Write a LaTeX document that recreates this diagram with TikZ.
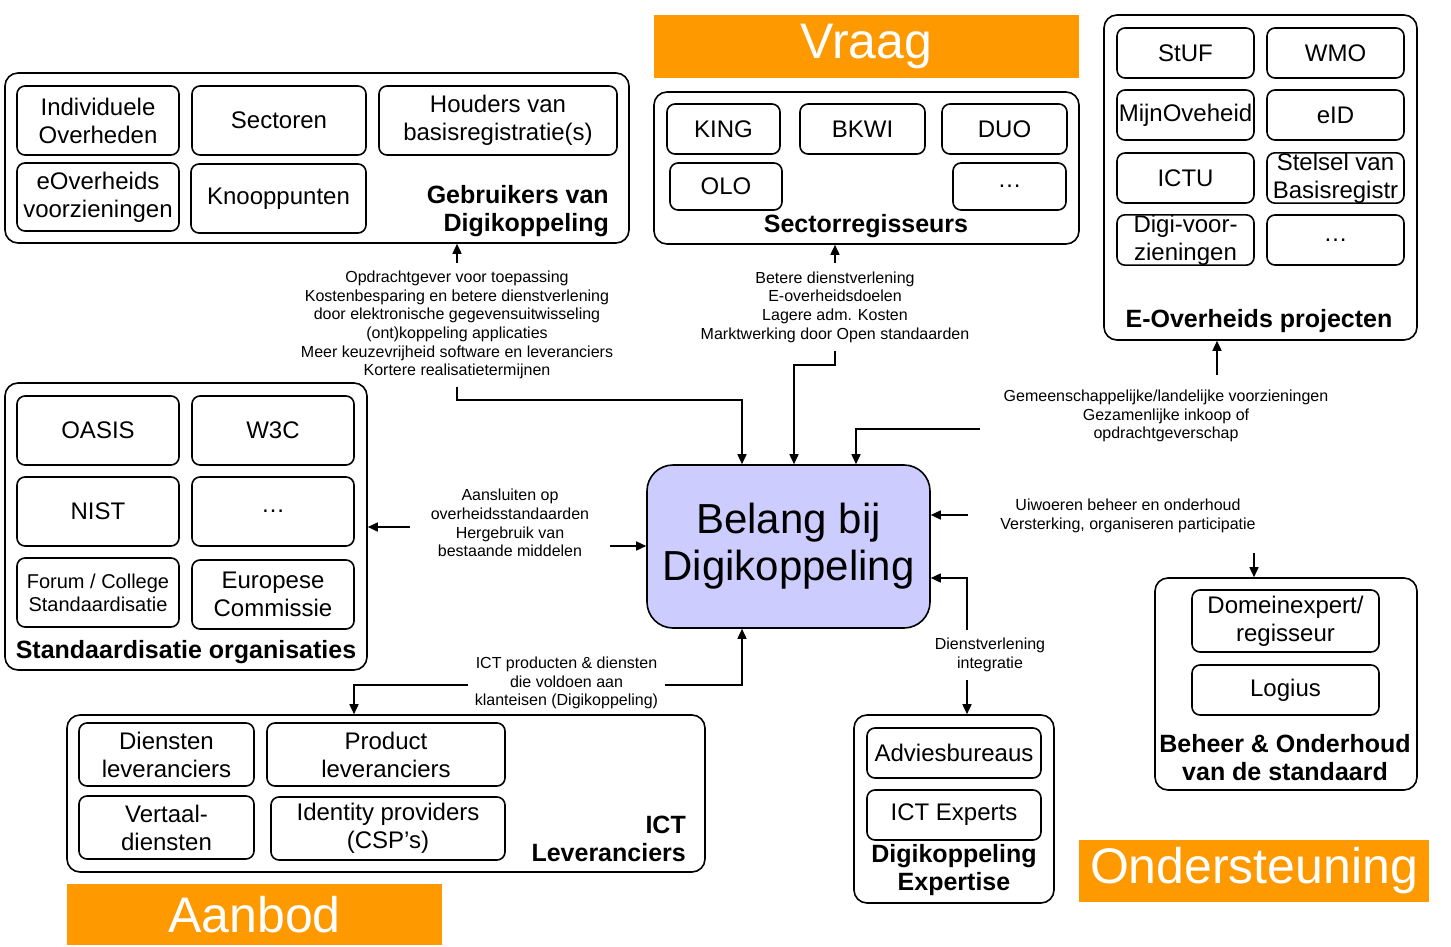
\documentclass[tikz,border=0pt]{standalone}
\usepackage{fontspec}
\setmainfont{Liberation Sans}
\usetikzlibrary{arrows.meta}
\definecolor{oranje}{RGB}{255,153,0}
\definecolor{lila}{RGB}{204,204,255}

\begin{document}
\begin{tikzpicture}[x=1pt,y=-1pt,
    item/.style={draw, rounded corners=8pt, line width=1.6pt, inner sep=0pt, align=center, font=\fontsize{24}{28}\selectfont},
    group/.style={draw, rounded corners=13pt, line width=1.6pt, inner sep=0pt},
    kop/.style={font=\fontsize{25}{28}\selectfont\bfseries, align=center, inner sep=0pt},
    banner/.style={fill=oranje, text=white, inner sep=0pt, font=\fontsize{50}{56}\selectfont},
    note/.style={align=center, inner sep=0pt, font=\fontsize{16}{18.6}\selectfont},
    arr/.style={-{Triangle[length=10pt,width=9pt]}, line width=1.6pt}]
        \useasboundingbox (0,0) rectangle (1451,947);

        % banners
        \node[banner, minimum width=425pt, minimum height=63pt] (vraag) at (866.5,46.5) {Vraag};
        \node[banner, minimum width=375pt, minimum height=61pt] (aanbod) at (254.5,914.5) {Aanbod};
        \node[banner, minimum width=350pt, minimum height=62pt] (onder) at (1254,871) {Ondersteuning};

        % groups
        \node[group, minimum width=624pt, minimum height=170pt] (gebr) at (317,158) {};
        \node[group, minimum width=425pt, minimum height=152pt] (sector) at (866.5,168) {};
        \node[group, minimum width=313pt, minimum height=325pt] (eover) at (1260.5,177.5) {};
        \node[group, minimum width=362pt, minimum height=287pt] (stand) at (186,526.5) {};
        \node[group, minimum width=638pt, minimum height=157pt] (ictlev) at (386,793.5) {};
        \node[group, minimum width=200pt, minimum height=188pt] (expert) at (954,809) {};
        \node[group, minimum width=262pt, minimum height=212pt] (beheer) at (1286,684) {};

        \node[kop, anchor=east, align=right] (gebrkop) at (609,211) {Gebruikers van\\Digikoppeling};
        \node[kop] (sectorkop) at (866,226) {Sectorregisseurs};
        \node[kop] (eoverkop) at (1259,321) {E-Overheids projecten};
        \node[kop] (standkop) at (186,652) {Standaardisatie organisaties};
        \node[kop, anchor=east, align=right] (ictkop) at (686,839) {ICT\\Leveranciers};
        \node[kop] (expertkop) at (954,870) {Digikoppeling\\Expertise};
        \node[kop] (beheerkop) at (1285,758) {Beheer \& Onderhoud\\van de standaard};

        % gebruikers
        \node[item, minimum width=162pt, minimum height=69pt] (indiv) at (98,120.5) {Individuele\\Overheden};
        \node[item, minimum width=174pt, minimum height=69pt] (sectoren) at (279,120.5) {Sectoren};
        \node[item, minimum width=238pt, minimum height=69pt] (houders) at (498,120.5) {Houders van\\basisregistratie(s)};
        \node[item, minimum width=162pt, minimum height=68pt] (evoorz) at (98,197) {eOverheids\\voorzieningen};
        \node[item, minimum width=175pt, minimum height=69pt] (knoop) at (278.5,198.5) {Knooppunten};

        % sectorregisseurs
        \node[item, minimum width=113pt, minimum height=50pt] (king) at (723.5,129) {KING};
        \node[item, minimum width=125pt, minimum height=50pt] (bkwi) at (862.5,129) {BKWI};
        \node[item, minimum width=125pt, minimum height=50pt] (duo) at (1004.5,129) {DUO};
        \node[item, minimum width=112pt, minimum height=47pt] (olo) at (726,186.5) {OLO};
        \node[item, minimum width=113pt, minimum height=47pt] (sectordots) at (1009.5,186.5) {\ldots};

        % e-overheids projecten
        \node[item, minimum width=137pt, minimum height=50pt] (stuf) at (1185.5,53) {StUF};
        \node[item, minimum width=137pt, minimum height=50pt] (wmo) at (1335.5,53) {WMO};
        \node[item, minimum width=137pt, minimum height=50pt] (mijnov) at (1185.5,115) {MijnOveheid};
        \node[item, minimum width=137pt, minimum height=50pt] (eid) at (1335.5,115) {eID};
        \node[item, minimum width=137pt, minimum height=50pt] (ictu) at (1185.5,178) {ICTU};
        \node[item, minimum width=137pt, minimum height=50pt] (stelsel) at (1335.5,178) {Stelsel van\\Basisregistr};
        \node[item, minimum width=137pt, minimum height=50pt] (digivoorz) at (1185.5,240) {Digi-voor-\\zieningen};
        \node[item, minimum width=137pt, minimum height=50pt] (eoverdots) at (1335.5,240) {\ldots};

        % standaardisatie
        \node[item, minimum width=162pt, minimum height=69pt] (oasis) at (98,430.5) {OASIS};
        \node[item, minimum width=162pt, minimum height=69pt] (wdrie) at (273,430.5) {W3C};
        \node[item, minimum width=162pt, minimum height=69pt] (nist) at (98,511.5) {NIST};
        \node[item, minimum width=162pt, minimum height=69pt] (standdots) at (273,511.5) {\ldots};
        \node[item, minimum width=162pt, minimum height=69pt, font=\fontsize{20}{23}\selectfont] (forum) at (98,592.5) {Forum / College\\Standaardisatie};
        \node[item, minimum width=162pt, minimum height=69pt] (europa) at (273,594.5) {Europese\\Commissie};

        % ict leveranciers
        \node[item, minimum width=175pt, minimum height=63pt] (dienstlev) at (166.5,754.5) {Diensten\\leveranciers};
        \node[item, minimum width=238pt, minimum height=63pt] (productlev) at (386,754.5) {Product\\leveranciers};
        \node[item, minimum width=175pt, minimum height=63pt] (vertaal) at (166.5,827.5) {Vertaal-\\diensten};
        \node[item, minimum width=234pt, minimum height=63pt] (identity) at (388,828.5) {Identity providers\\(CSP’s)};

        % expertise en beheer
        \node[item, minimum width=174pt, minimum height=50pt] (advies) at (954,753) {Adviesbureaus};
        \node[item, minimum width=174pt, minimum height=50pt] (ictexp) at (954,815) {ICT Experts};
        \node[item, minimum width=187pt, minimum height=62pt] (domein) at (1285.5,621) {Domeinexpert/\\regisseur};
        \node[item, minimum width=187pt, minimum height=50pt] (logius) at (1285.5,690) {Logius};

        % centre
        \node[draw, fill=lila, rounded corners=26pt, line width=1.6pt, minimum width=283pt, minimum height=163pt, align=center, font=\fontsize{42}{47}\selectfont] (belang) at (788.5,546.5) {Belang bij\\Digikoppeling};

        % labels on the connectors
        \node[note, minimum height=123pt] (opdr) at (457,325) {Opdrachtgever voor toepassing\\Kostenbesparing en betere dienstverlening\\door elektronische gegevensuitwisseling\\(ont)koppeling applicaties\\Meer keuzevrijheid software en leveranciers\\Kortere realisatietermijnen};
        \node[note, minimum height=88pt] (beter) at (835,307) {Betere dienstverlening\\E-overheidsdoelen\\Lagere adm. Kosten\\Marktwerking door Open standaarden};
        \node[note, minimum width=372pt, minimum height=81pt] (gemeen) at (1166,416) {Gemeenschappelijke/landelijke voorzieningen\\Gezamenlijke inkoop of\\opdrachtgeverschap};
        \node[note, minimum width=320pt] (uitv) at (1128,516) {Uiwoeren beheer en onderhoud\\Versterking, organiseren participatie};
        \node[note, minimum width=200pt] (aans) at (510,523) {Aansluiten op\\overheidsstandaarden\\Hergebruik van\\bestaande middelen};
        \node[note, minimum width=197pt] (ictnote) at (566.5,683) {ICT producten \& diensten\\die voldoen aan\\klanteisen (Digikoppeling)};
        \node[note, minimum height=50pt] (dienst) at (990,655) {Dienstverlening\\integratie};

        % connectors
        \draw[arr] (opdr.north) -- (opdr.north |- gebr.south);
        \draw[arr] (opdr.south) -- ++(0,13) -| ([xshift=-46.5]belang.north);
        \draw[arr] (beter.north) -- (beter.north |- sector.south);
        \draw[arr] (beter.south) -- ++(0,14) -| ([xshift=5.5]belang.north);
        \draw[arr] ([yshift=-13]gemeen.west) -| ([xshift=67.5]belang.north);
        \draw[arr] ([xshift=51]gemeen.north) -- ([xshift=51]gemeen.north |- eover.south);
        \draw[arr] ([yshift=1]uitv.west) -- ([yshift=1]uitv.west -| belang.east);
        \draw[arr] ([xshift=-32,yshift=24]beheer.north) -- ([xshift=-32]beheer.north);
        \draw[arr] ([yshift=-4]aans.west) -- ([yshift=-4]aans.west -| stand.east);
        \draw[arr] ([yshift=-23]aans.east) -- ([yshift=-23]aans.east -| belang.west);
        \draw[arr] ([yshift=-2]ictnote.east) -| ([xshift=-46.5]belang.south);
        \draw[arr] ([yshift=-2]ictnote.west) -| ([xshift=-32]ictlev.north);
        \draw[arr] ([xshift=-23]dienst.north) |- ([yshift=-31.5]belang.east);
        \draw[arr] ([xshift=-23]dienst.south) -- ([xshift=-23]dienst.south |- expert.north);
\end{tikzpicture}
\end{document}
